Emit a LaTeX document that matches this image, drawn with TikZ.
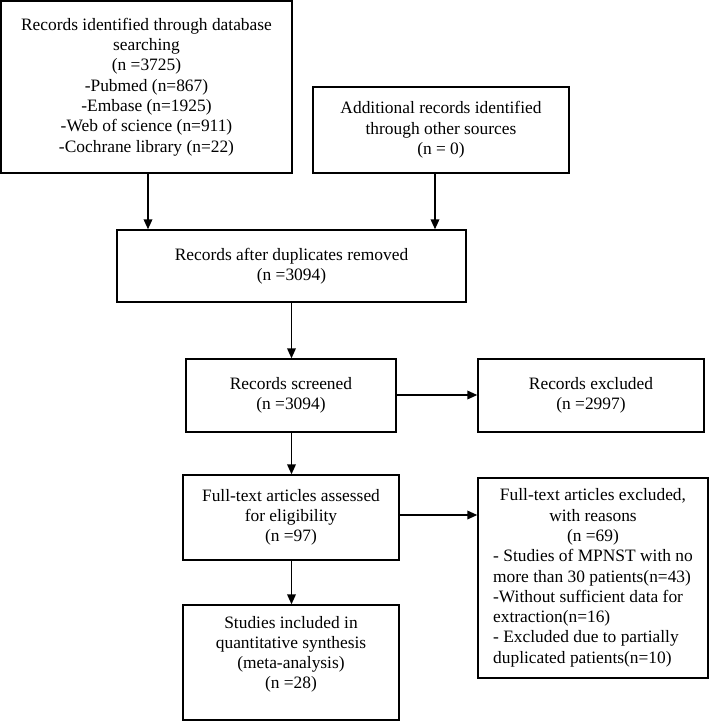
\documentclass[tikz,border=0pt]{standalone}
\usepackage{fontspec}
\setmainfont{Liberation Serif}
\newfontfamily\tnr{Liberation Serif}
\usetikzlibrary{arrows.meta}
\begin{document}
\begin{tikzpicture}[x=1pt,y=-1pt,
  box/.style={draw, line width=1.3pt, inner sep=0pt, align=center,
    font=\tnr\fontsize{17.4}{20.3}\selectfont},
  arr/.style={line width=1.8pt, -{Triangle[length=10pt,width=8.5pt]}}]
\useasboundingbox (0,0) rectangle (709,721);
\node[box, minimum width=291, minimum height=172] (b1) at (146.5,87)
  {Records identified through database\\searching\\(n =3725)\\-Pubmed (n=867)\\-Embase (n=1925)\\-Web of science (n=911)\\-Cochrane library (n=22)};
\node[box, minimum width=256, minimum height=86] (b2) at (441,130)
  {Additional records identified\\through other sources\\(n = 0)};
\node[box, minimum width=349, minimum height=72] (b3) at (291.5,266)
  {Records after duplicates removed\\(n =3094)};
\node[box, minimum width=210, minimum height=73] (b4) at (291,395.5)
  {Records screened\\(n =3094)};
\node[box, minimum width=226, minimum height=73] (b5) at (591,395.5)
  {Records excluded\\(n =2997)};
\node[box, minimum width=216, minimum height=85] (b6) at (291,517.5)
  {Full-text articles assessed\\for eligibility\\(n =97)};
\node[box, minimum width=230, minimum height=200] (b7) at (593,578)
  {\begin{tabular}{@{}l@{}}
   \multicolumn{1}{@{}c@{}}{Full-text articles excluded,}\\
   \multicolumn{1}{@{}c@{}}{with reasons}\\
   \multicolumn{1}{@{}c@{}}{(n =69)}\\
   - Studies of MPNST with no\\
   more than 30 patients(n=43)\\
   -Without sufficient data for\\
   extraction(n=16)\\
   - Excluded due to partially\\
   duplicated patients(n=10)
   \end{tabular}};
\node[box, minimum width=216, minimum height=115] (b8) at (291,662.5)
  {\parbox[c][115pt][t]{216pt}{\centering\vspace*{11pt}Studies included in\\quantitative synthesis\\(meta-analysis)\\(n =28)}};
\draw[arr] ([xshift=1.5pt]b1.south) -- ([xshift=1.5pt]b1.south |- b3.north);
\draw[arr] ([xshift=-6pt]b2.south) -- ([xshift=-6pt]b2.south |- b3.north);
\draw[arr] (b3.south) -- (b3.south |- b4.north);
\draw[arr] ([yshift=0.5pt]b4.east) -- ([yshift=0.5pt]b4.east -| b5.west);
\draw[arr] ([xshift=0.5pt]b4.south) -- ([xshift=0.5pt]b4.south |- b6.north);
\draw[arr] ([yshift=2.5pt]b6.east) -- ([yshift=2.5pt]b6.east -| b7.west);
\draw[arr] ([xshift=0.5pt]b6.south) -- ([xshift=0.5pt]b6.south |- b8.north);
\end{tikzpicture}
\end{document}
